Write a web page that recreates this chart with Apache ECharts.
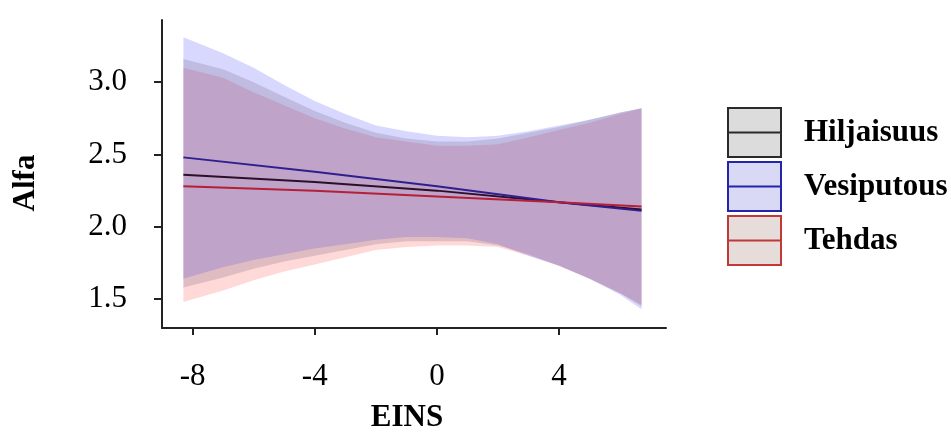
<!DOCTYPE html>
<html>
<head>
<meta charset="utf-8">
<script src="https://cdn.jsdelivr.net/npm/echarts@6/dist/echarts.min.js"></script>
<style>
  html, body { margin: 0; padding: 0; background: #fff; }
  #chart { width: 951px; height: 435px; }
</style>
</head>
<body>
<div id="chart"></div>
<script>
  var bandX = [-8.3, -7, -6, -5, -4, -3, -2, -1, 0, 1, 2, 3, 4, 5, 6, 6.7];

  // Hiljaisuus (gray band)
  var hilLo = [1.58, 1.65, 1.71, 1.76, 1.80, 1.84, 1.88, 1.90, 1.90, 1.90, 1.87, 1.81, 1.73, 1.64, 1.54, 1.45];
  var hilHi = [3.16, 3.09, 3.00, 2.90, 2.80, 2.72, 2.65, 2.61, 2.59, 2.59, 2.61, 2.65, 2.69, 2.74, 2.79, 2.82];
  // Vesiputous (blue band)
  var vesLo = [1.64, 1.72, 1.77, 1.81, 1.85, 1.88, 1.91, 1.93, 1.93, 1.92, 1.88, 1.80, 1.73, 1.64, 1.53, 1.43];
  var vesHi = [3.31, 3.20, 3.10, 2.98, 2.87, 2.78, 2.70, 2.66, 2.63, 2.62, 2.63, 2.66, 2.70, 2.74, 2.79, 2.82];
  // Tehdas (red band)
  var tehLo = [1.48, 1.56, 1.63, 1.69, 1.74, 1.79, 1.84, 1.86, 1.87, 1.87, 1.86, 1.80, 1.73, 1.64, 1.54, 1.46];
  var tehHi = [3.10, 3.03, 2.93, 2.84, 2.75, 2.68, 2.62, 2.59, 2.56, 2.56, 2.57, 2.62, 2.67, 2.72, 2.78, 2.82];

  // fitted lines
  var lineX = [-8.3, -4, 0, 4, 6.7];
  var hilLine = [2.36, 2.31, 2.25, 2.17, 2.12];
  var vesLine = [2.48, 2.38, 2.28, 2.17, 2.11];
  var tehLine = [2.28, 2.25, 2.21, 2.17, 2.14];

  var xTicks = [-8, -4, 0, 4];
  var yTicks = [1.5, 2.0, 2.5, 3.0];
  var groups = ['Hiljaisuus', 'Vesiputous', 'Tehdas'];

  var serif = 'Liberation Serif, Times New Roman, serif';

  function band(name, lo, hi, fill) {
    return {
      type: 'custom',
      name: name,
      silent: true,
      data: bandX.map(function (x, i) { return [x, lo[i], hi[i]]; }),
      encode: { x: 0, y: [1, 2] },
      renderItem: function (params, api) {
        if (params.dataIndex !== 0) return;
        var pts = [];
        for (var i = 0; i < bandX.length; i++) pts.push(api.coord([bandX[i], hi[i]]));
        for (var j = bandX.length - 1; j >= 0; j--) pts.push(api.coord([bandX[j], lo[j]]));
        return { type: 'polygon', shape: { points: pts }, style: { fill: fill } };
      }
    };
  }

  function line(name, ys, color) {
    return {
      type: 'line',
      name: name,
      data: lineX.map(function (x, i) { return [x, ys[i]]; }),
      showSymbol: false,
      silent: true,
      lineStyle: { color: color, width: 2 },
      z: 5
    };
  }

  var boxPath = 'path://M0,0L53,0L53,49L0,49Z M0,24.5L53,24.5';

  var chart = echarts.init(document.getElementById('chart'));
  chart.setOption({
    animation: false,
    backgroundColor: '#fff',
    grid: { left: 162, right: 285, top: 20, bottom: 107, outerBoundsMode: 'none' },
    legend: {
      orient: 'vertical',
      left: 722,
      top: 102,
      itemWidth: 53,
      itemHeight: 49,
      itemGap: 3,
      selectedMode: false,
      textStyle: { fontFamily: serif, fontSize: 31, fontWeight: 'bold', color: '#000', padding: [6, 0, 0, 18] },
      data: [
        { name: groups[0], icon: boxPath, itemStyle: { color: '#dcdcdc', borderColor: '#2a2a2a', borderWidth: 2 } },
        { name: groups[1], icon: boxPath, itemStyle: { color: '#d9d9f6', borderColor: '#2424a8', borderWidth: 2 } },
        { name: groups[2], icon: boxPath, itemStyle: { color: '#e6dcd9', borderColor: '#c03838', borderWidth: 2 } }
      ]
    },
    xAxis: {
      type: 'value',
      min: -9,
      max: 7.5,
      name: 'EINS',
      nameLocation: 'middle',
      nameGap: 74,
      nameTextStyle: { fontFamily: serif, fontSize: 31, fontWeight: 'bold', color: '#000', padding: [0, 14, 0, 0] },
      axisLine: { onZero: false, lineStyle: { color: '#222', width: 2 } },
      axisTick: { customValues: xTicks, length: 7, lineStyle: { color: '#222', width: 2 } },
      axisLabel: { customValues: xTicks, margin: 33, fontFamily: serif, fontSize: 31, color: '#000' },
      splitLine: { show: false }
    },
    yAxis: {
      type: 'value',
      min: 1.3,
      max: 3.43,
      name: 'Alfa',
      nameLocation: 'middle',
      nameGap: 121,
      nameRotate: 90,
      nameTextStyle: { fontFamily: serif, fontSize: 31, fontWeight: 'bold', color: '#000', padding: [0, 18, 0, 0] },
      axisLine: { show: true, onZero: false, lineStyle: { color: '#222', width: 2 } },
      axisTick: { show: true, customValues: yTicks, length: 8, lineStyle: { color: '#222', width: 2 } },
      axisLabel: {
        customValues: yTicks, margin: 35, fontFamily: serif, fontSize: 31, color: '#000',
        formatter: function (v) { return v.toFixed(1); }
      },
      splitLine: { show: false }
    },
    series: [
      band(groups[2], tehLo, tehHi, 'rgba(255,60,60,0.2)'),
      band(groups[1], vesLo, vesHi, 'rgba(60,60,255,0.2)'),
      band(groups[0], hilLo, hilHi, 'rgba(110,90,120,0.22)'),
      line('Hiljaisuus viiva', hilLine, '#2b0f2b'),
      line('Vesiputous viiva', vesLine, '#2e1f8f'),
      line('Tehdas viiva', tehLine, '#b51f3a')
    ]
  });
</script>
</body>
</html>
